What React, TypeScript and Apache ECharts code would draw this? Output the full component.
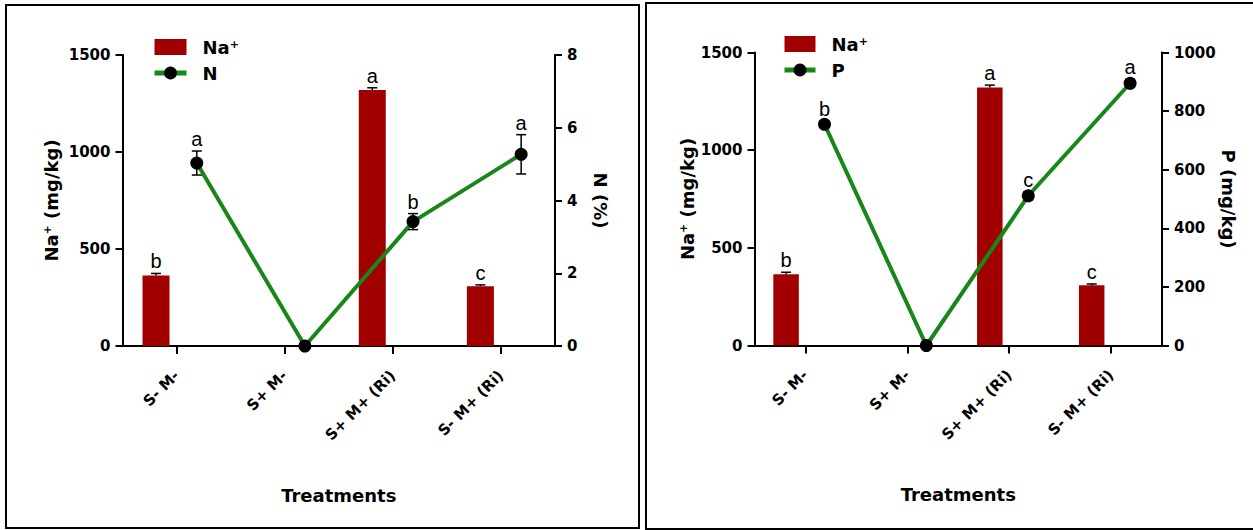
import React, { useEffect, useRef } from 'react';
import * as echarts from 'echarts';

const categories = ['S- M-', 'S+ M-', 'S+ M+ (Ri)', 'S- M+ (Ri)'];

// Left panel
const naValuesA = [364, 0, 1319, 308];
const naErrorsA = [10, 0, 12, 7];
const naLettersA = ['b', '', 'a', 'c'];
const nValues = [5.03, 0, 3.42, 5.27];
const nErrors = [0.33, 0, 0.22, 0.54];
const nLetters = ['a', '', 'b', 'a'];

// Right panel
const naValuesB = [365, 0, 1321, 308];
const naErrorsB = [10, 0, 12, 7];
const naLettersB = ['b', '', 'a', 'c'];
const pValues = [755, 0, 511, 895];
const pErrors = [12, 0, 14, 14];
const pLetters = ['b', '', 'c', 'a'];

const BAR_SHIFT = -0.19;
const POINT_SHIFT = 0.187;

const BAR_COLOR = '#A00000';
const LINE_COLOR = '#178717';
const AXIS_FONT = 'DejaVu Sans';
const LETTER_FONT = 'Liberation Sans';

function shifted(values: number[], shift: number) {
  return values.map((v, i) => [i + shift, v]);
}

function errorSeries(
  name: string,
  xAxisIndex: number,
  yAxisIndex: number,
  values: number[],
  errors: number[],
  letters: string[],
  shift: number,
  upperOnly: boolean
) {
  return {
    type: 'custom',
    name,
    xAxisIndex,
    yAxisIndex,
    z: 10,
    data: values.map((v, i) => [i + shift, v, errors[i]]),
    renderItem: (params: any, api: any) => {
      const x = api.value(0);
      const v = api.value(1);
      const e = api.value(2);
      const letter = letters[params.dataIndex];
      const top = api.coord([x, v + e]);
      const mid = api.coord([x, v]);
      const bot = api.coord([x, v - e]);
      const children: any[] = [];
      const cap = 5;
      const ls = { stroke: '#000', lineWidth: 1.5 };
      if (e > 0) {
        children.push({
          type: 'line',
          shape: { x1: top[0], y1: top[1], x2: upperOnly ? mid[0] : bot[0], y2: upperOnly ? mid[1] : bot[1] },
          style: ls,
        });
        children.push({
          type: 'line',
          shape: { x1: top[0] - cap, y1: top[1], x2: top[0] + cap, y2: top[1] },
          style: ls,
        });
        if (!upperOnly) {
          children.push({
            type: 'line',
            shape: { x1: bot[0] - cap, y1: bot[1], x2: bot[0] + cap, y2: bot[1] },
            style: ls,
          });
        }
      }
      if (letter) {
        children.push({
          type: 'text',
          style: {
            text: letter,
            x: top[0],
            y: top[1] - 2,
            align: 'center',
            verticalAlign: 'bottom',
            fontSize: 20,
            fontFamily: LETTER_FONT,
            fill: '#000',
          },
        });
      }
      return { type: 'group', children };
    },
  };
}

const axisLine = { show: true, onZero: false, lineStyle: { color: '#000', width: 2 } };
const axisTick = { show: true, length: 7, lineStyle: { color: '#000', width: 2 } };
const tickLabel = {
  color: '#000', fontSize: 15, fontWeight: 'bold' as const, fontFamily: AXIS_FONT, margin: 12,
  formatter: (v: number) => String(v),
};
const nameRich = {
  b: { fontSize: 18, fontWeight: 'bold' as const, fontFamily: AXIS_FONT, color: '#000' },
  sup: { fontSize: 11, fontWeight: 'bold' as const, fontFamily: AXIS_FONT, color: '#000', verticalAlign: 'top' as const, padding: [0, 0, 8, 0] },
};
const plainName = { color: '#000', fontSize: 18, fontWeight: 'bold' as const, fontFamily: AXIS_FONT };

function categoryAxis(gridIndex: number) {
  return {
    type: 'category',
    gridIndex,
    data: categories,
    axisLine,
    axisTick: { ...axisTick, length: 8, alignWithLabel: true },
    axisLabel: {
      color: '#000',
      fontSize: 15,
      fontWeight: 'bold',
      fontFamily: AXIS_FONT,
      rotate: 45,
      margin: 27,
      interval: 0,
    },
    name: 'Treatments',
    nameLocation: 'middle',
    nameGap: 140,
    nameTextStyle: plainName,
  };
}

function hiddenAxis(gridIndex: number) {
  return { type: 'value', gridIndex, min: -0.5, max: 3.5, show: false };
}

const legendRich = {
  gap: { width: 11, lineHeight: 16 },
  b: { fontSize: 18, lineHeight: 16, fontWeight: 'bold' as const, fontFamily: AXIS_FONT, color: '#000' },
  sup: { fontSize: 11, lineHeight: 8, fontWeight: 'bold' as const, fontFamily: AXIS_FONT, color: '#000', verticalAlign: 'top' as const, padding: [0, 0, 8, 0] },
};

function legendFormatter(name: string) {
  if (name === 'Na+') return '{gap|}{b|Na}{sup|+}';
  return '{gap|}{b|' + name + '}';
}

function legend(lineName: string, left: number, top: number, itemWidth: number) {
  return {
    data: [{ name: 'Na+', icon: 'rect' }, { name: lineName }],
    orient: 'vertical',
    left,
    top,
    padding: 0,
    itemWidth,
    itemHeight: 16,
    itemGap: 6,
    selectedMode: false,
    lineStyle: { width: 5 },
    formatter: legendFormatter,
    textStyle: { lineHeight: 16, rich: legendRich },
  };
}

export default function App() {
  const ref = useRef<HTMLDivElement>(null);

  useEffect(() => {
    if (!ref.current) return;
    const chart = echarts.init(ref.current, undefined, { renderer: 'svg' });
    const option: any = {
      animation: false,
      backgroundColor: '#fff',
      graphic: [
        { type: 'rect', shape: { x: 6, y: 5, width: 633, height: 523 }, style: { fill: 'none', stroke: '#000', lineWidth: 2 }, z: 100 },
        { type: 'rect', shape: { x: 646, y: 3, width: 620, height: 526 }, style: { fill: 'none', stroke: '#000', lineWidth: 2 }, z: 100 },
      ],
      legend: [legend('N', 152, 38, 32), legend('P', 782, 35, 31)],
      grid: [
        { left: 122.5, top: 55, width: 432.5, height: 291, containLabel: false },
        { left: 754.5, top: 52.5, width: 407.5, height: 293, containLabel: false },
      ],
      xAxis: [categoryAxis(0), hiddenAxis(0), categoryAxis(1), hiddenAxis(1)],
      yAxis: [
        {
          type: 'value', gridIndex: 0, position: 'left', min: 0, max: 1500, interval: 500,
          axisLine, axisTick, axisLabel: tickLabel, splitLine: { show: false },
          name: '{b|Na}{sup|+}{b| (mg/kg)}', nameLocation: 'middle', nameGap: 62, nameRotate: 90,
          nameTextStyle: { rich: nameRich },
        },
        {
          type: 'value', gridIndex: 0, position: 'right', min: 0, max: 8, interval: 2,
          axisLine, axisTick, axisLabel: tickLabel, splitLine: { show: false },
          name: 'N (%)', nameLocation: 'middle', nameGap: 36, nameRotate: -90,
          nameTextStyle: plainName,
        },
        {
          type: 'value', gridIndex: 1, position: 'left', min: 0, max: 1500, interval: 500,
          axisLine, axisTick, axisLabel: tickLabel, splitLine: { show: false },
          name: '{b|Na}{sup|+}{b| (mg/kg)}', nameLocation: 'middle', nameGap: 58, nameRotate: 90,
          nameTextStyle: { rich: nameRich },
        },
        {
          type: 'value', gridIndex: 1, position: 'right', min: 0, max: 1000, interval: 200,
          axisLine, axisTick, axisLabel: tickLabel, splitLine: { show: false },
          name: 'P (mg/kg)', nameLocation: 'middle', nameGap: 44, nameRotate: -90,
          nameTextStyle: plainName,
        },
      ],
      series: [
        {
          type: 'bar', name: 'Na+', xAxisIndex: 1, yAxisIndex: 0, barWidth: 27,
          itemStyle: { color: BAR_COLOR }, data: shifted(naValuesA, BAR_SHIFT),
        },
        errorSeries('errNaA', 1, 0, naValuesA, naErrorsA, naLettersA, BAR_SHIFT, true),
        {
          type: 'line', name: 'N', xAxisIndex: 1, yAxisIndex: 1,
          symbol: 'circle', symbolSize: 13, z: 5,
          itemStyle: { color: '#000' }, lineStyle: { color: LINE_COLOR, width: 4 },
          data: shifted(nValues, POINT_SHIFT),
        },
        errorSeries('errN', 1, 1, nValues, nErrors, nLetters, POINT_SHIFT, false),
        {
          type: 'bar', name: 'Na+', xAxisIndex: 3, yAxisIndex: 2, barWidth: 25.5,
          itemStyle: { color: BAR_COLOR }, data: shifted(naValuesB, BAR_SHIFT),
        },
        errorSeries('errNaB', 3, 2, naValuesB, naErrorsB, naLettersB, BAR_SHIFT, true),
        {
          type: 'line', name: 'P', xAxisIndex: 3, yAxisIndex: 3,
          symbol: 'circle', symbolSize: 13, z: 5,
          itemStyle: { color: '#000' }, lineStyle: { color: LINE_COLOR, width: 4 },
          data: shifted(pValues, POINT_SHIFT),
        },
        errorSeries('errP', 3, 3, pValues, pErrors, pLetters, POINT_SHIFT, false),
      ],
    };
    chart.setOption(option);
    return () => chart.dispose();
  }, []);

  return (
    <div
      ref={ref}
      style={{ position: 'absolute', left: 0, top: 0, width: 1253, height: 530, background: '#fff' }}
    />
  );
}
